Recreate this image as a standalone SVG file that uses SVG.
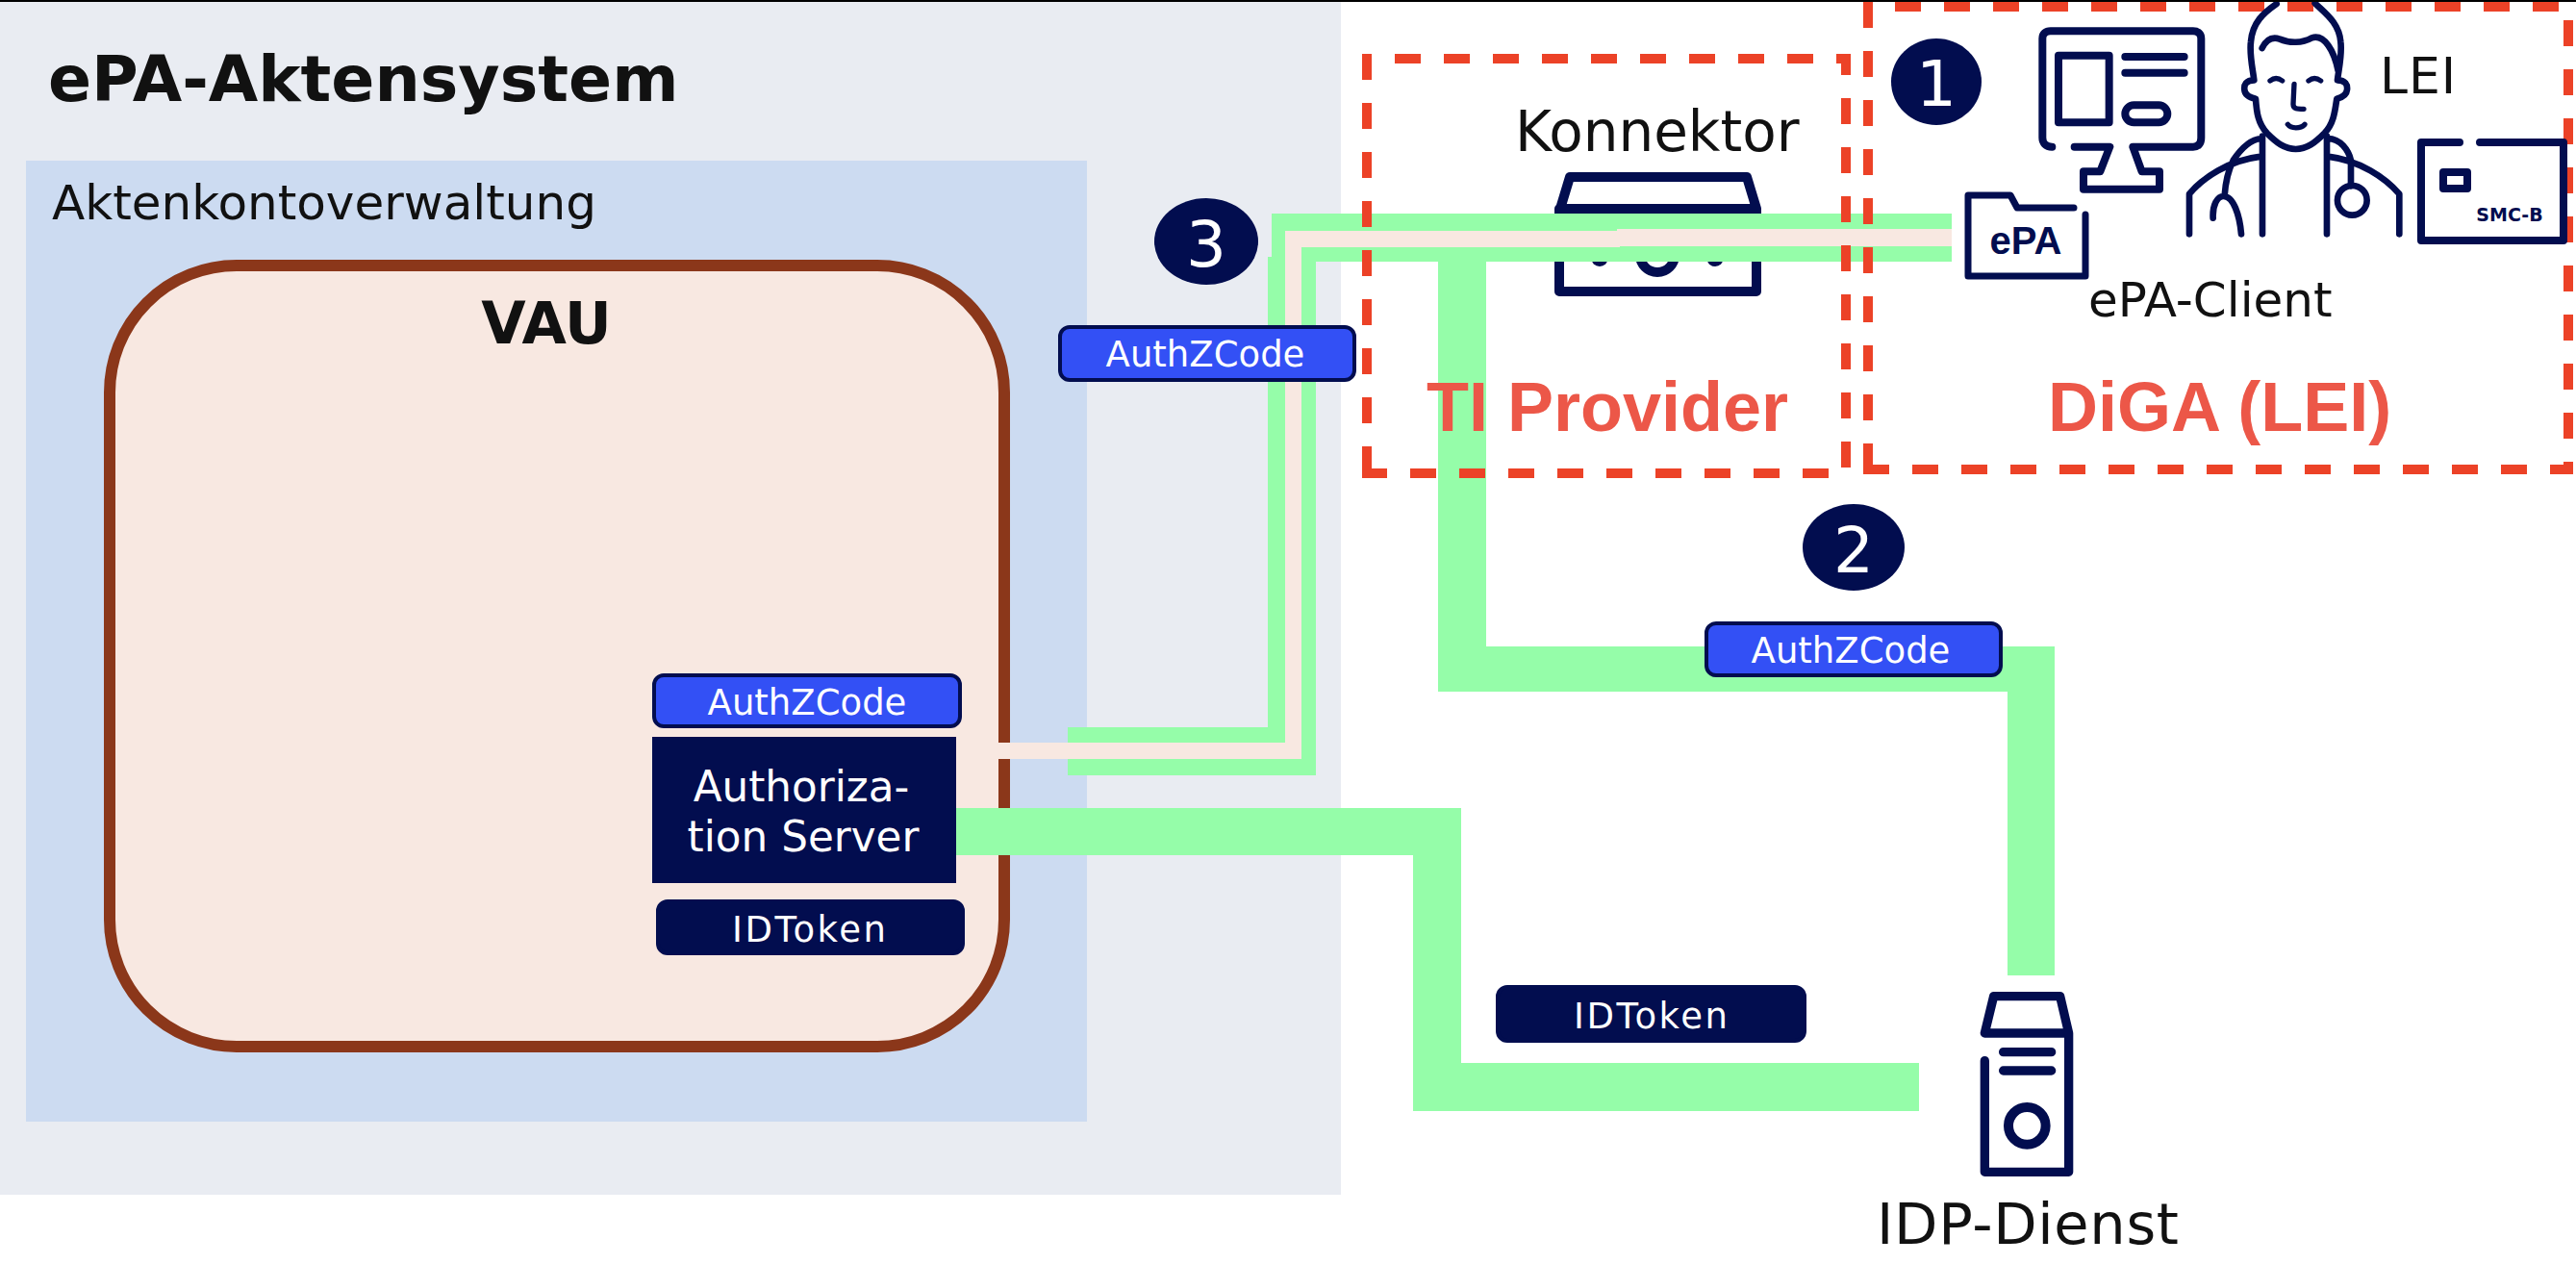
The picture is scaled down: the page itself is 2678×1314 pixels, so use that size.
<svg xmlns="http://www.w3.org/2000/svg" width="2678" height="1314" viewBox="0 0 2678 1314">
<style>
text{font-family:"DejaVu Sans",Verdana,sans-serif;fill:#111}
.c{text-anchor:middle}
.w{fill:#fff}
.b{font-weight:bold}
.line{fill:none;stroke:#020d4f;stroke-linecap:round;stroke-linejoin:round}
.badge{stroke:#020d4f;stroke-width:4}
.code{fill:#3350f5}
.tok{fill:#020d4f}
.num{fill:#020d4f}
.flow{fill:#95fda9}
.tls{fill:#f8e8e1}
.dash{fill:none;stroke:#ec4227;stroke-width:10;stroke-dasharray:27 24}
.zone{font-family:"Liberation Sans",Arial,sans-serif;font-weight:bold;fill:#ec5748;font-size:72px}
.t37{font-size:37px}
</style>
<rect width="2678" height="1314" fill="#fff"/>
<g id="akten-system">
<rect x="0" y="0" width="1394" height="1242" fill="#e9ecf2"/>
<text x="50" y="105" class="b" font-size="66.5">ePA-Aktensystem</text>
</g>
<g id="aktenkontoverwaltung">
<rect x="27" y="167" width="1103" height="999" fill="#ccdbf1"/>
<text x="54" y="228" font-size="50">Aktenkontoverwaltung</text>
</g>
<g id="vau">
<rect x="114" y="276" width="930" height="812" rx="132" ry="132" fill="#f8e8e1" stroke="#8b371a" stroke-width="12"/>
<text x="568" y="357" class="b c" font-size="60">VAU</text>
</g>
<g id="konnektor">
<text x="1575" y="157" font-size="58">Konnektor</text>
<path class="line" stroke-width="10" d="M1632 184H1816L1826 217H1622ZM1621 217V303H1826V217"/>
<circle cx="1663" cy="268" r="9" fill="#020d4f"/>
<circle cx="1783" cy="268" r="9" fill="#020d4f"/>
<circle cx="1723" cy="265" r="18" fill="none" stroke="#020d4f" stroke-width="10"/>
</g>
<g id="connectors">
<path class="flow" d="M994 840H1519V1105H1995V1155H1469V889H994Z"/>
<path class="flow" d="M1495 272V719H2087V1014H2136V672H1545V272Z"/>
<path class="flow" d="M1110 756H1318V267H1322V222H2029V272H1368V806H1110Z"/>
<path class="tls" d="M998 772H1336V240H1681V238H2029V256H1684V257H1353V789H998Z"/>
</g>
<g id="zone-ti">
<path class="dash" d="M1450 61H1919V492H1416"/>
<path class="dash" d="M1421 56V492"/>
<text x="1483" y="448" class="zone">TI Provider</text>
</g>
<g id="zone-diga">
<path class="dash" d="M1970 7H2670V488H1935"/>
<path class="dash" d="M1942 2V488"/>
<text x="2129" y="448" class="zone">DiGA (LEI)</text>
</g>
<g id="monitor" transform="translate(2020 20) scale(.3333)">
<path class="line" stroke-width="24" d="M340 398C320 398 310 385 310 370V60C310 45 320 37 335 37H780C795 37 805 45 805 60V370C805 390 795 398 780 398H592L620 475H675V530H438V475H490L520 398H410"/>
<rect class="line" stroke-width="24" x="360" y="113" width="158" height="209"/>
<path class="line" stroke-width="24" d="M568 117H752M568 167H752"/>
<rect class="line" stroke-width="24" x="568" y="268" width="132" height="54" rx="27"/>
</g>
<g id="epa-folder">
<path class="line" stroke-width="7" d="M2156 216H2097L2090 203H2046V287H2168V223"/>
<text x="2106" y="264" font-size="40" text-anchor="middle" style="font-family:'Liberation Sans',Arial,sans-serif;font-weight:bold;fill:#020d4f">ePA</text>
<text x="2171" y="329" font-size="50">ePA-Client</text>
</g>
<g id="lei" transform="translate(2260 0) scale(.3333)">
<path class="line" stroke-width="20" d="M320 12C280 40 245 70 240 130C235 170 245 210 250 250C225 250 218 265 220 280C222 300 240 305 255 308C258 350 262 385 290 415C320 445 345 465 380 465C415 465 440 445 470 415C498 385 502 350 508 308C520 305 538 300 540 280C542 265 535 250 510 250C515 210 525 170 520 130C515 70 470 40 440 10"/>
<path class="line" stroke-width="20" d="M275 150C290 120 310 115 330 122C360 135 400 135 430 118C470 105 500 160 512 220"/>
<path class="line" stroke-width="16" d="M300 252C312 242 325 242 338 252M420 252C432 242 445 242 458 252M375 262L372 325C372 340 385 340 405 340M355 388C365 402 395 402 408 388"/>
<path class="line" stroke-width="20" d="M276 425V730M477 425V730M272 432C235 435 205 470 185 500C165 540 160 580 158 610M122 680C120 640 135 612 155 612C185 612 205 670 210 730M48 730V605C90 555 170 500 272 488M703 730V605C660 555 580 500 480 488M480 432C520 432 545 470 552 500V580"/>
<circle class="line" stroke-width="20" cx="556" cy="625" r="46"/>
</g>
<g id="lei-label"><text x="2474" y="97" font-size="52" textLength="79">LEI</text></g>
<g id="smc-b">
<path class="line" stroke-width="8" d="M2557 148H2517V250H2665V148H2578"/>
<rect class="line" stroke-width="8" x="2540" y="179" width="25" height="17"/>
<text x="2609" y="230" class="c b" font-size="19" style="fill:#020d4f">SMC-B</text>
</g>
<g id="idp-dienst">
<g transform="translate(1900 950) scale(.3333)">
<path class="line" stroke-width="28" d="M518 257H725L752 372H490ZM752 372V805H490V458"/>
<path class="line" stroke-width="28" d="M548 431H698M548 489H698"/>
<circle class="line" stroke-width="30" cx="622" cy="661" r="58"/>
</g>
<text x="1951" y="1293" font-size="59" textLength="314">IDP-Dienst</text>
</g>
<g id="authz-server">
<rect class="tok" x="678" y="766" width="316" height="152"/>
<text x="833" y="833" class="c w" font-size="43.7">Authoriza-</text>
<text x="835" y="885" class="c w" font-size="43.7">tion Server</text>
</g>
<g id="badge-authz-vau">
<rect class="badge code" x="680" y="702" width="318" height="53" rx="10"/>
<text x="839" y="743" class="c w t37">AuthZCode</text>
</g>
<g id="badge-idtoken-vau">
<rect class="badge tok" x="684" y="937" width="317" height="54" rx="10"/>
<text x="761" y="979" class="w t37" textLength="160">IDToken</text>
</g>
<g id="badge-authz-3">
<rect class="badge code" x="1102" y="340" width="306" height="55" rx="10"/>
<text x="1253" y="381" class="c w t37">AuthZCode</text>
</g>
<g id="badge-authz-2">
<rect class="badge code" x="1774" y="648" width="306" height="54" rx="10"/>
<text x="1924" y="689" class="c w t37">AuthZCode</text>
</g>
<g id="badge-idtoken-idp">
<rect class="badge tok" x="1557" y="1026" width="319" height="56" rx="10"/>
<text x="1636" y="1069" class="w t37" textLength="160">IDToken</text>
</g>
<g id="step-1"><ellipse class="num" cx="2013" cy="85" rx="47" ry="45"/><text x="2013" y="110" class="c w" font-size="66">1</text></g>
<g id="step-2"><ellipse class="num" cx="1927" cy="569" rx="53" ry="45"/><text x="1927" y="595" class="c w" font-size="66">2</text></g>
<g id="step-3"><ellipse class="num" cx="1254" cy="251" rx="54" ry="45"/><text x="1254" y="277" class="c w" font-size="66">3</text></g>
<rect id="top-edge" x="0" y="0" width="2678" height="2" fill="#000"/>
</svg>
